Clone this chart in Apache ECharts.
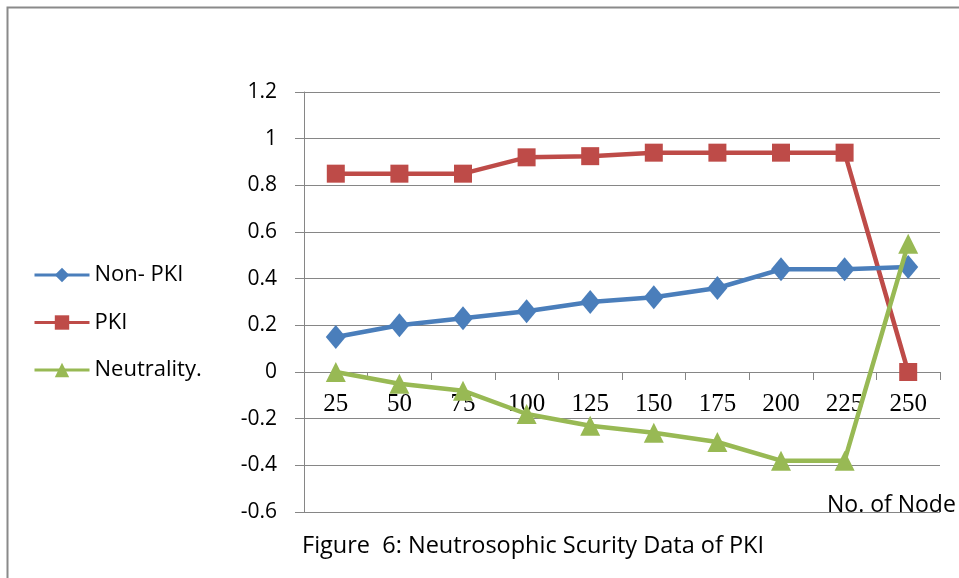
<!DOCTYPE html>
<html>
<head>
<meta charset="utf-8">
<script src="https://cdn.jsdelivr.net/npm/echarts@6/dist/echarts.min.js"></script>
<style>
html,body{margin:0;padding:0;background:#fff;}
#chart{width:959px;height:578px;}
</style>
</head>
<body>
<div id="chart"></div>
<script>
var categories = ['25','50','75','100','125','150','175','200','225','250'];
var nonPKI = [0.15, 0.2, 0.23, 0.26, 0.30, 0.32, 0.36, 0.44, 0.44, 0.45];
var pki = [0.85, 0.85, 0.85, 0.92, 0.925, 0.94, 0.94, 0.94, 0.94, 0];
var neutrality = [0, -0.05, -0.08, -0.18, -0.23, -0.26, -0.30, -0.38, -0.38, 0.55];
var seriesNames = ['Non- PKI', 'PKI', 'Neutrality.'];
var xAxisName = 'No. of Node';
var caption = 'Figure  6: Neutrosophic Scurity Data of PKI';

var sans = '"Open Sans", "Noto Sans", sans-serif';
var gridTop = 92, gridBottom = 66, yMin = -0.6, yMax = 1.2;
var gridH = 578 - gridTop - gridBottom;
var zeroOffset = -gridH * (0 - yMin) / (yMax - yMin);

var chart = echarts.init(document.getElementById('chart'), null, {renderer: 'canvas'});
chart.setOption({
  animation: false,
  backgroundColor: '#fff',
  grid: {left: 304, right: 19, top: gridTop, bottom: gridBottom, containLabel: false},
  legend: {
    orient: 'vertical',
    left: 33,
    top: 264,
    padding: 0,
    itemWidth: 55,
    itemHeight: 18,
    itemGap: 25.5,
    data: seriesNames,
    lineStyle: {width: 3},
    textStyle: {fontFamily: sans, fontSize: 22, color: '#000'}
  },
  xAxis: {
    type: 'category',
    data: categories,
    boundaryGap: true,
    offset: zeroOffset,
    axisLine: {onZero: false, lineStyle: {color: '#868686', width: 1}},
    axisTick: {show: true, length: 8, lineStyle: {color: '#868686'}},
    axisLabel: {fontFamily: '"Liberation Serif", serif', fontSize: 25, color: '#000', margin: 20},
    splitLine: {show: false}
  },
  yAxis: {
    type: 'value',
    min: yMin,
    max: yMax,
    interval: 0.2,
    axisLine: {show: true, onZero: false, lineStyle: {color: '#868686', width: 1}},
    axisTick: {show: true, length: 9, lineStyle: {color: '#868686'}},
    axisLabel: {fontFamily: sans, fontSize: 21, color: '#000', margin: 27,
      formatter: function(v){ return String(Math.round(v*10)/10); }},
    splitLine: {show: true, lineStyle: {color: '#868686', width: 1}}
  },
  series: [
    {name: seriesNames[0], type: 'line', data: nonPKI, symbol: 'diamond', symbolSize: [20, 24],
     lineStyle: {color: '#4a7ebb', width: 4.5}, itemStyle: {color: '#4a7ebb'}, z: 3},
    {name: seriesNames[1], type: 'line', data: pki, symbol: 'rect', symbolSize: 18,
     lineStyle: {color: '#be4b48', width: 4.5}, itemStyle: {color: '#be4b48'}, z: 2},
    {name: seriesNames[2], type: 'line', data: neutrality, symbol: 'triangle', symbolSize: 20,
     lineStyle: {color: '#98b954', width: 4.5}, itemStyle: {color: '#98b954'}, z: 4}
  ],
  graphic: [
    {type: 'rect', left: 5, top: 5, shape: {width: 1000, height: 700},
     style: {fill: 'none', stroke: '#8a8a8a', lineWidth: 2}, silent: true, z: 0},
    {type: 'text', left: 827, top: 494, style: {text: xAxisName, font: '23px ' + sans, fill: '#000'}, z: 10},
    {type: 'text', left: 302, top: 534, style: {text: caption, font: '23.5px ' + sans, fill: '#000'}, z: 10}
  ]
});
</script>
</body>
</html>
